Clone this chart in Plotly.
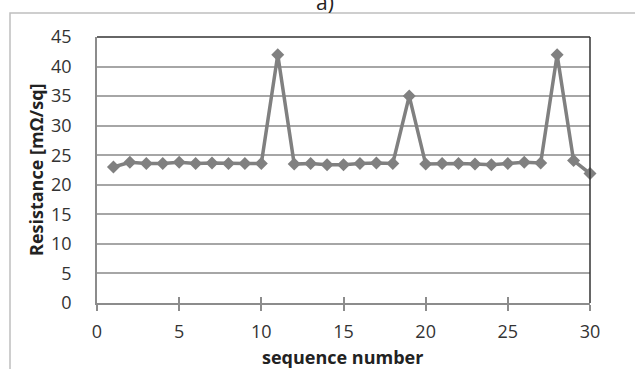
import plotly.graph_objects as go

seq = list(range(1, 31))
resistance = [23.0, 23.8, 23.6, 23.6, 23.8, 23.6, 23.7, 23.6, 23.6, 23.6,
              42.0, 23.5, 23.6, 23.4, 23.4, 23.6, 23.7, 23.6, 35.0, 23.5,
              23.6, 23.6, 23.5, 23.4, 23.6, 23.8, 23.7, 42.0, 24.1, 21.9]
x_ticks = [0, 5, 10, 15, 20, 25, 30]
y_ticks = [0, 5, 10, 15, 20, 25, 30, 35, 40, 45]

W, H = 635, 369
L, R, T, B = 97, 590, 37, 303

def px(x):
    return (x - L) / (R - L)

def py(y):
    return (B - y) / (B - T)

font = "Open Sans, Noto Sans, sans-serif"
fig = go.Figure()
fig.add_trace(go.Scatter(
    x=seq, y=resistance, mode="lines+markers",
    line=dict(color="#808080", width=3.5),
    marker=dict(symbol="diamond", size=10, color="#808080"),
    showlegend=False, cliponaxis=False,
))
fig.add_trace(go.Scatter(x=[None], y=[None], xaxis="x2", showlegend=False))

fig.update_layout(
    width=W, height=H,
    margin=dict(l=L, r=W - R, t=T, b=H - B),
    paper_bgcolor="white", plot_bgcolor="white",
    font=dict(family=font, size=18, color="#222222"),
    xaxis=dict(range=[0, 30], tickvals=x_ticks, showgrid=False, zeroline=False,
               showline=True, linecolor="#8c8c8c", linewidth=1.5,
               ticks="outside", ticklen=6, tickcolor="#8c8c8c", tickwidth=1.5,
               tickfont=dict(size=18, color="#333333"), ticklabelstandoff=6),
    xaxis2=dict(range=[0, 30], tickvals=x_ticks, overlaying="x", side="bottom",
                showgrid=False, zeroline=False, showline=False,
                ticks="inside", ticklen=6, tickcolor="#8c8c8c", tickwidth=1.5,
                showticklabels=False),
    yaxis=dict(range=[0, 45], tickvals=y_ticks, showgrid=True, gridcolor="#a6a6a6",
               gridwidth=1.5, zeroline=False, showline=True, linecolor="#8c8c8c",
               linewidth=1.5, ticks="", tickfont=dict(size=18, color="#333333"),
               ticklabelstandoff=20),
    shapes=[
        dict(type="rect", xref="paper", yref="paper", x0=px(10), x1=px(700),
             y0=py(500), y1=py(13), line=dict(color="#bfbfbf", width=1.5),
             fillcolor="rgba(0,0,0,0)", layer="below"),
        dict(type="line", xref="paper", yref="paper", x0=0, x1=1, y0=1, y1=1,
             line=dict(color="#333333", width=1.5)),
        dict(type="line", xref="paper", yref="paper", x0=1, x1=1, y0=0, y1=1,
             line=dict(color="#333333", width=1.5)),
    ],
    annotations=[
        dict(text="a)", xref="paper", yref="paper", x=px(325), y=py(2),
             xanchor="center", yanchor="middle", showarrow=False,
             font=dict(size=21, color="#222222")),
        dict(text="<b>sequence number</b>", xref="paper", yref="paper",
             x=px(342), y=py(357), xanchor="center", yanchor="middle",
             showarrow=False, font=dict(size=18, color="#222222")),
        dict(text="<b>Resistance [mΩ/sq]</b>", xref="paper", yref="paper",
             x=px(36), y=py(170), xanchor="center", yanchor="middle",
             textangle=-90, showarrow=False, font=dict(size=18, color="#222222")),
    ],
)

fig.write_html("out.html", config={"displayModeBar": False},
               post_script="document.body.style.margin='0';document.body.style.overflow='hidden';")
